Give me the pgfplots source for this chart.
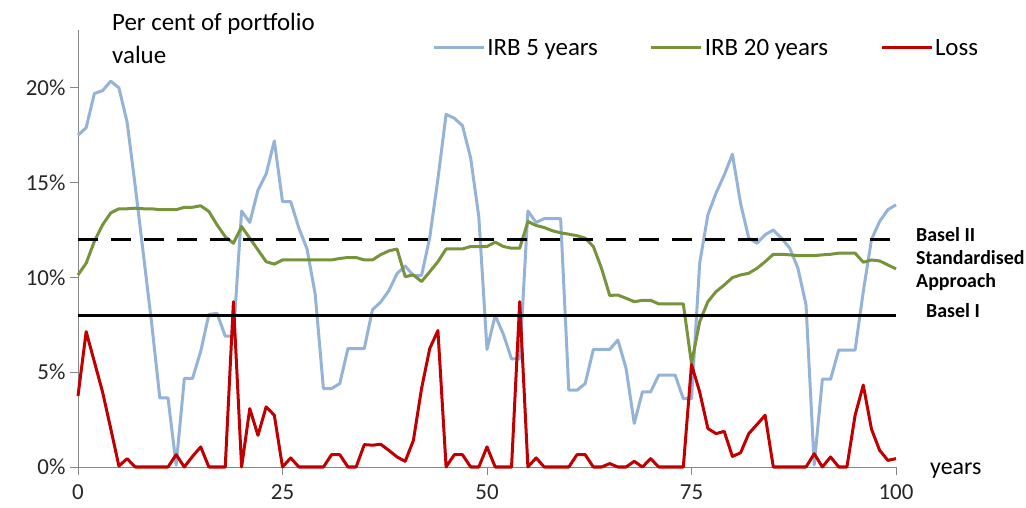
\documentclass[border=0pt]{standalone}
\usepackage{pgfplots}
\pgfplotsset{compat=1.18}
\usepackage{fontspec}
\setmainfont{Carlito}
\definecolor{irbfive}{HTML}{95B3D7}
\definecolor{irbtwenty}{HTML}{77933C}
\definecolor{lossred}{HTML}{C00000}
\definecolor{axgray}{HTML}{868686}
\begin{document}
\begin{tikzpicture}
\useasboundingbox (0,0) rectangle (1026bp,508bp);
\begin{axis}[
  at={(78bp,41bp)}, anchor=south west,
  scale only axis, width=818bp, height=437bp,
  xmin=0, xmax=100, ymin=0, ymax=23.05,
  axis x line=bottom, axis y line=left,
  axis line style={axgray, line width=1bp, -},
  xtick={0,25,50,75,100}, xticklabels={0,25,50,75,100},
  ytick={0,5,10,15,20}, yticklabels={0\%,5\%,10\%,15\%,20\%},
  tick style={axgray, line width=1bp},
  major tick length=8bp,
  xtick align=outside, ytick align=outside,
  tick label style={font=\fontsize{23}{27}\selectfont, text=black!85},
  xticklabel style={yshift=-6bp},
  yticklabel style={xshift=-1bp},
  legend columns=3,
  legend style={at={(0.433,0.959)}, anchor=west, draw=none, fill=none,
    inner sep=0pt, font=\fontsize{25}{29}\selectfont,
    /tikz/every even column/.append style={column sep=50bp}},
  legend image code/.code={\draw[#1] (0bp,0bp) -- (50bp,0bp);},
  legend cell align=left,
  clip=false,
]
\addplot[irbfive, line width=3bp, line join=round] coordinates {
(0,17.5) (1,17.9) (2,19.7) (3,19.85) (4,20.35) (5,20.0) (6,18.2) (7,14.8) (8,11.2) (9,7.6)
(10,3.65) (11,3.65) (12,0.1) (13,4.67) (14,4.67) (15,6.1) (16,8.05) (17,8.1) (18,6.9) (19,6.9)
(20,13.5) (21,12.9) (22,14.6) (23,15.45) (24,17.2) (25,14.0) (26,14.0) (27,12.6) (28,11.5) (29,9.1)
(30,4.14) (31,4.14) (32,4.4) (33,6.25) (34,6.25) (35,6.25) (36,8.3) (37,8.7) (38,9.3) (39,10.2)
(40,10.6) (41,10.1) (42,10.1) (43,12.1) (44,15.2) (45,18.6) (46,18.4) (47,18.0) (48,16.3) (49,13.2)
(50,6.2) (51,8.0) (52,7.0) (53,5.7) (54,5.7) (55,13.5) (56,12.9) (57,13.1) (58,13.1) (59,13.1)
(60,4.05) (61,4.05) (62,4.4) (63,6.2) (64,6.2) (65,6.2) (66,6.7) (67,5.2) (68,2.3) (69,3.96)
(70,3.96) (71,4.85) (72,4.85) (73,4.85) (74,3.6) (75,3.6) (76,10.75) (77,13.3) (78,14.45) (79,15.4)
(80,16.5) (81,13.9) (82,12.07) (83,11.8) (84,12.25) (85,12.5) (86,12.07) (87,11.55) (88,10.5) (89,8.55)
(90,0.1) (91,4.63) (92,4.63) (93,6.17) (94,6.17) (95,6.17) (96,9.25) (97,12.0) (98,12.95) (99,13.57)
(100,13.83)};
\addlegendentry{IRB 5 years}
\addplot[irbtwenty, line width=3bp, line join=round] coordinates {
(0,10.13) (1,10.75) (2,11.9) (3,12.77) (4,13.4) (5,13.62) (6,13.62) (7,13.65) (8,13.62) (9,13.62)
(10,13.57) (11,13.57) (12,13.57) (13,13.7) (14,13.7) (15,13.78) (16,13.48) (17,12.77) (18,12.15) (19,11.8)
(20,12.68) (21,12.07) (22,11.45) (23,10.83) (24,10.7) (25,10.92) (26,10.92) (27,10.92) (28,10.92) (29,10.92)
(30,10.92) (31,10.92) (32,11.0) (33,11.05) (34,11.05) (35,10.92) (36,10.92) (37,11.2) (38,11.4) (39,11.5)
(40,10.04) (41,10.13) (42,9.78) (43,10.3) (44,10.83) (45,11.5) (46,11.5) (47,11.5) (48,11.63) (49,11.63)
(50,11.63) (51,11.86) (52,11.63) (53,11.54) (54,11.54) (55,12.95) (56,12.74) (57,12.63) (58,12.46) (59,12.35)
(60,12.28) (61,12.2) (62,12.07) (63,11.63) (64,10.48) (65,9.05) (66,9.07) (67,8.9) (68,8.72) (69,8.79)
(70,8.79) (71,8.6) (72,8.6) (73,8.6) (74,8.6) (75,5.46) (76,7.66) (77,8.72) (78,9.25) (79,9.6)
(80,9.99) (81,10.13) (82,10.22) (83,10.48) (84,10.83) (85,11.22) (86,11.22) (87,11.19) (88,11.15) (89,11.15)
(90,11.15) (91,11.19) (92,11.22) (93,11.28) (94,11.28) (95,11.28) (96,10.8) (97,10.92) (98,10.87) (99,10.66)
(100,10.45)};
\addlegendentry{IRB 20 years}
\addplot[lossred, line width=3bp, line join=round] coordinates {
(0,3.75) (1,7.14) (2,5.55) (3,3.96) (4,2.03) (5,0.05) (6,0.44) (7,0) (8,0) (9,0)
(10,0) (11,0) (12,0.65) (13,0) (14,0.56) (15,1.06) (16,0) (17,0) (18,0) (19,8.72)
(20,0) (21,3.08) (22,1.67) (23,3.17) (24,2.73) (25,0) (26,0.48) (27,0) (28,0) (29,0)
(30,0) (31,0.65) (32,0.65) (33,0) (34,0) (35,1.18) (36,1.15) (37,1.2) (38,0.88) (39,0.53)
(40,0.3) (41,1.4) (42,4.14) (43,6.25) (44,7.2) (45,0) (46,0.65) (47,0.65) (48,0) (49,0)
(50,1.06) (51,0) (52,0) (53,0) (54,8.72) (55,0) (56,0.48) (57,0) (58,0) (59,0)
(60,0) (61,0.65) (62,0.65) (63,0) (64,0) (65,0.18) (66,0) (67,0) (68,0.3) (69,0)
(70,0.44) (71,0) (72,0) (73,0) (74,0) (75,5.4) (76,3.96) (77,2.03) (78,1.76) (79,1.88)
(80,0.56) (81,0.75) (82,1.76) (83,2.24) (84,2.73) (85,0) (86,0) (87,0) (88,0) (89,0)
(90,0.7) (91,0) (92,0.53) (93,0) (94,0) (95,2.73) (96,4.32) (97,2.0) (98,0.88) (99,0.35)
(100,0.44)};
\addlegendentry{Loss}
\addplot[black, line width=3bp, dash pattern=on 20bp off 13bp, forget plot] coordinates {(0,12) (100,12)};
\addplot[black, line width=3bp, forget plot] coordinates {(0,8) (100,8)};
\end{axis}
\node[anchor=base west, font=\fontsize{25}{29}\selectfont, inner sep=0pt] at (112bp,477bp) {Per cent of portfolio};
\node[anchor=base west, font=\fontsize{25}{29}\selectfont, inner sep=0pt] at (112bp,444bp) {value};
\node[anchor=west, font=\bfseries\fontsize{20}{23}\selectfont, inner sep=0pt] at (916bp,273bp) {Basel II};
\node[anchor=west, font=\bfseries\fontsize{20}{23}\selectfont, inner sep=0pt] at (916bp,250bp) {Standardised};
\node[anchor=west, font=\bfseries\fontsize{20}{23}\selectfont, inner sep=0pt] at (916bp,226bp) {Approach};
\node[anchor=west, font=\bfseries\fontsize{20}{23}\selectfont, inner sep=0pt] at (926bp,197bp) {Basel I};
\node[anchor=west, font=\fontsize{24}{28}\selectfont, inner sep=0pt] at (930bp,37bp) {years};
\end{tikzpicture}
\end{document}
